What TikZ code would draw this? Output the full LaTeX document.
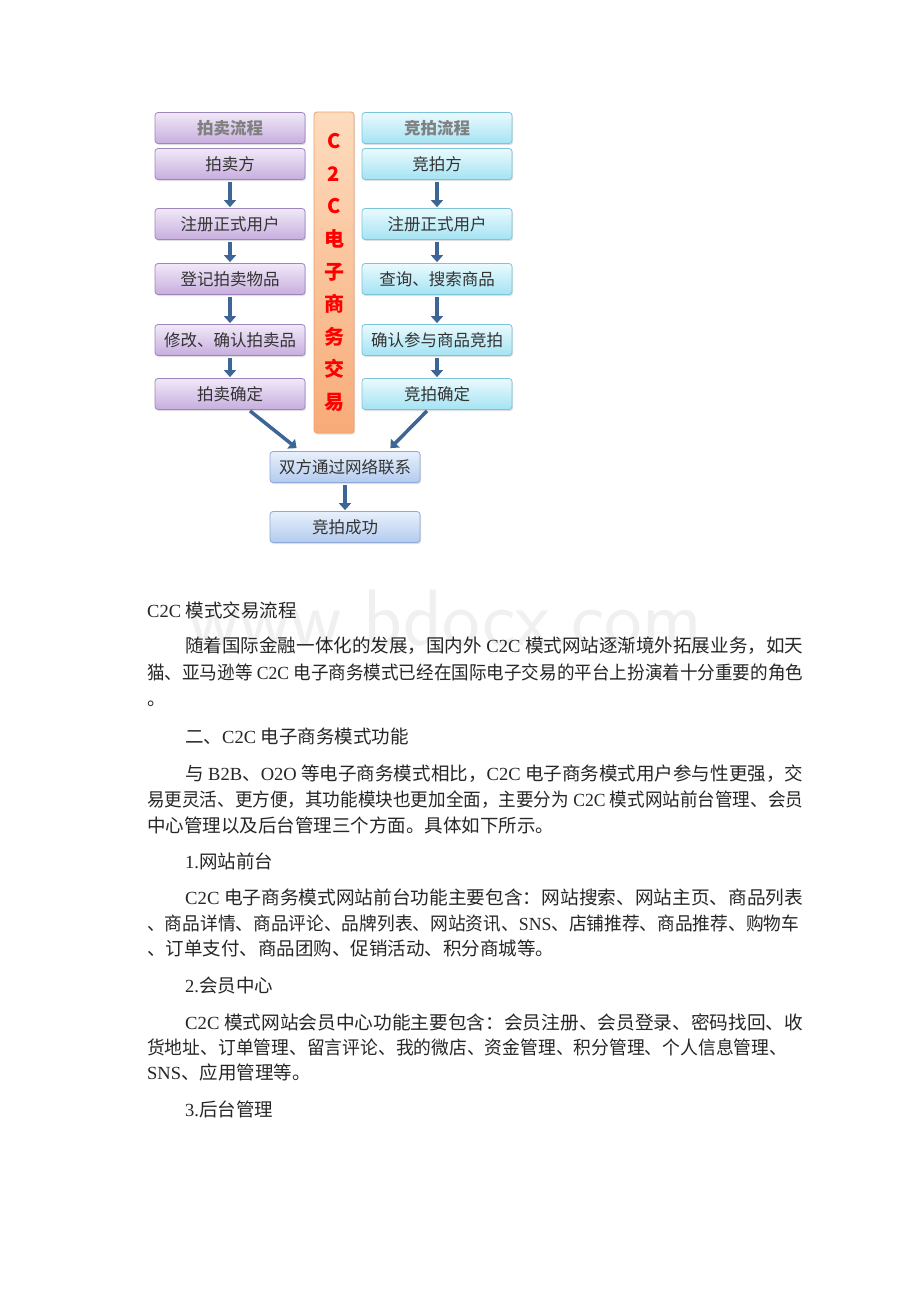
\documentclass[tikz,border=0pt]{standalone}
\usepackage{fontspec}
\setmainfont{Noto Sans CJK SC}
\newfontfamily\tmfont{Liberation Serif}
\newcommand{\tm}[1]{{\tmfont #1}}
\newcommand{\gap}{\hskip 4.5pt}
\newcommand{\fullline}[2]{\resizebox{#1}{\height}{#2}}
\usetikzlibrary{arrows.meta,calc,shadows}
\definecolor{arrowblue}{HTML}{3D6596}
\definecolor{pmTop}{HTML}{F1E9F8}
\definecolor{pmBot}{HTML}{C7AEDE}
\definecolor{pmLine}{HTML}{9C86BB}
\definecolor{cyTop}{HTML}{EAFAFE}
\definecolor{cyBot}{HTML}{A4E3F3}
\definecolor{cyLine}{HTML}{7CC4DA}
\definecolor{orTop}{HTML}{FDDCBE}
\definecolor{orBot}{HTML}{F8AB78}
\definecolor{orLine}{HTML}{F0A06A}
\definecolor{blTop}{HTML}{E8F0FC}
\definecolor{blBot}{HTML}{B3CBEE}
\definecolor{blLine}{HTML}{8EA9D8}

\begin{document}
\begin{tikzpicture}[x=1pt, y=-1pt,
  box/.style={rounded corners=3pt, minimum width=150pt, minimum height=31pt, inner sep=0pt,
    font=\fontsize{16.5}{18}\selectfont, text=black!80, line width=0.8pt,
    drop shadow={shadow xshift=1pt, shadow yshift=-1.5pt, opacity=0.25}},
  auc/.style={box, draw=pmLine, top color=pmTop, bottom color=pmBot},
  bid/.style={box, draw=cyLine, top color=cyTop, bottom color=cyBot},
  deal/.style={box, draw=blLine, top color=blTop, bottom color=blBot},
  head/.style={font=\fontsize{16.5}{18}\selectfont\bfseries, text=black!50},
  flow/.style={draw=arrowblue, line width=3.5pt, -{Triangle[length=7pt, width=12pt]}},
  line/.style={anchor=base west, inner sep=0pt, font=\fontsize{18.5}{22}\selectfont, text=black!85}]
  \useasboundingbox (0,0) rectangle (920,1302);
  \fill[white] (0,0) rectangle (920,1302);

  % auction side
  \node[auc, head] (sellhead) at (230,128) {拍卖流程};
  \node[auc] (sell1) at (230,164) {拍卖方};
  \node[auc] (sell2) at (230,224) {注册正式用户};
  \node[auc] (sell3) at (230,279) {登记拍卖物品};
  \node[auc] (sell4) at (230,340) {修改、确认拍卖品};
  \node[auc] (sell5) at (230,394) {拍卖确定};

  % bidding side
  \node[bid, head] (buyhead) at (437,128) {竞拍流程};
  \node[bid] (buy1) at (437,164) {竞拍方};
  \node[bid] (buy2) at (437,224) {注册正式用户};
  \node[bid] (buy3) at (437,279) {查询、搜索商品};
  \node[bid] (buy4) at (437,340) {确认参与商品竞拍};
  \node[bid] (buy5) at (437,394) {竞拍确定};

  % middle column
  \node[box, draw=orLine, top color=orTop, bottom color=orBot, minimum width=40pt, minimum height=321pt,
    align=center, text=red, font=\fontsize{20}{32.6}\selectfont\bfseries] (mid) at (334,272.5)
    {C\\2\\C\\电\\子\\商\\务\\交\\易};

  \node[deal] (meet) at (345,467) {双方通过网络联系};
  \node[deal] (done) at (345,527) {竞拍成功};

  \foreach \a/\b in {sell1/sell2, sell2/sell3, sell3/sell4, sell4/sell5,
                     buy1/buy2, buy2/buy3, buy3/buy4, buy4/buy5}
    \draw[flow, shorten <=2pt, shorten >=1pt] (\a.south) -- (\b.north);
  \draw[flow] ($(sell5.south)+(20,1)$) -- ($(meet.north west)+(27,-3)$);
  \draw[flow] ($(buy5.south)+(-10,1)$) -- ($(meet.north east)+(-30,-3)$);
  \draw[flow, shorten <=2pt, shorten >=1pt] (meet.south) -- (done.north);

  % watermark
  \node[font=\fontsize{80}{80}\selectfont\sffamily, text=black!6, inner sep=0pt, anchor=base] (mark) at (445,645) {www.bdocx.com};

  % text below
  \node[line] (t1) at (147,617) {\tm{C2C}\gap 模式交易流程};
  \node[line] (p1a) at (185,652) {\fullline{618pt}{随着国际金融一体化的发展，国内外\gap\tm{C2C}\gap 模式网站逐渐境外拓展业务，如天}};
  \node[line] (p1b) at (147,679) {\fullline{656pt}{猫、亚马逊等\gap\tm{C2C}\gap 电子商务模式已经在国际电子交易的平台上扮演着十分重要的角色}};
  \node[line] (p1c) at (147,705) {。};
  \node[line] (t2) at (185,743) {二、\tm{C2C}\gap 电子商务模式功能};
  \node[line] (p2a) at (185,780) {\fullline{618pt}{与\gap\tm{B2B}、\tm{O2O}\gap 等电子商务模式相比，\tm{C2C}\gap 电子商务模式用户参与性更强，交}};
  \node[line] (p2b) at (147,806) {\fullline{656pt}{易更灵活、更方便，其功能模块也更加全面，主要分为\gap\tm{C2C}\gap 模式网站前台管理、会员}};
  \node[line] (p2c) at (147,832) {中心管理以及后台管理三个方面。具体如下所示。};
  \node[line] (t3) at (185,868) {\tm{1.}网站前台};
  \node[line] (p3a) at (185,904) {\fullline{618pt}{\tm{C2C}\gap 电子商务模式网站前台功能主要包含：网站搜索、网站主页、商品列表}};
  \node[line] (p3b) at (147,930) {\fullline{652pt}{、商品详情、商品评论、品牌列表、网站资讯、\tm{SNS}、店铺推荐、商品推荐、购物车}};
  \node[line] (p3c) at (147,955) {、订单支付、商品团购、促销活动、积分商城等。};
  \node[line] (t4) at (185,992) {\tm{2.}会员中心};
  \node[line] (p4a) at (185,1029) {\fullline{618pt}{\tm{C2C}\gap 模式网站会员中心功能主要包含：会员注册、会员登录、密码找回、收}};
  \node[line] (p4b) at (147,1054) {\fullline{640pt}{货地址、订单管理、留言评论、我的微店、资金管理、积分管理、个人信息管理、}};
  \node[line] (p4c) at (147,1079) {\tm{SNS}、应用管理等。};
  \node[line] (t5) at (185,1116) {\tm{3.}后台管理};
\end{tikzpicture}
\end{document}
